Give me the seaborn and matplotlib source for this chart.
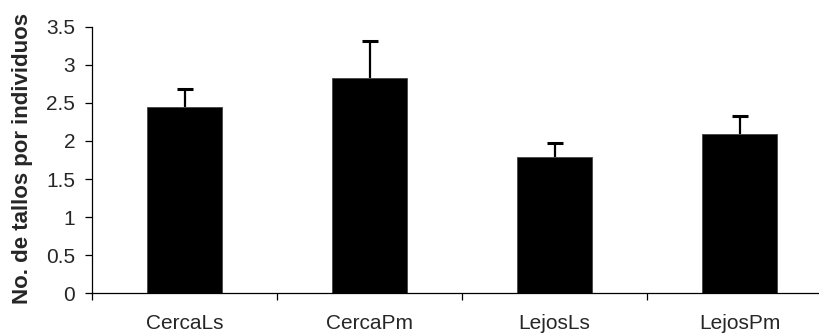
import matplotlib
matplotlib.use("Agg")
import matplotlib.pyplot as plt
import seaborn as sns
import pandas as pd

categories = ["CercaLs", "CercaPm", "LejosLs", "LejosPm"]
means = [2.45, 2.83, 1.79, 2.09]
errors = [0.23, 0.48, 0.18, 0.24]
y_ticks = [0, 0.5, 1, 1.5, 2, 2.5, 3, 3.5]
y_label = "No. de tallos por individuos"

sns.set_theme(style="white")
plt.rcParams["font.family"] = ["Liberation Sans", "DejaVu Sans"]

df = pd.DataFrame({"grupo": categories, "tallos": means})

fig = plt.figure(figsize=(8.19, 3.35), dpi=100)
# axes run slightly past the right edge of the canvas
ax = fig.add_axes([92 / 819, 1 - 293.3 / 335, 740 / 819, (293.3 - 26.7) / 335])

sns.barplot(data=df, x="grupo", y="tallos", order=categories, color="black",
            width=0.41, errorbar=None, saturation=1, ax=ax)
for p in ax.patches:
    p.set_edgecolor("#444444")
    p.set_linewidth(0.6)

# upper-only error bars
eb = ax.errorbar(range(len(categories)), means,
                 yerr=[[0] * len(errors), errors],
                 fmt="none", ecolor="black", elinewidth=1.6, capsize=5.5, capthick=2.2)
eb.lines[1][0].set_visible(False)

ax.set_ylim(0, 3.5)
ax.set_xlim(-0.5, 3.5)
ax.set_yticks(y_ticks)
ax.set_yticklabels([f"{v:g}" for v in y_ticks], fontsize=15)

# category labels centred under bars, ticks on the boundaries
ax.set_xticks([i - 0.5 for i in range(len(categories) + 1)])
ax.set_xticklabels([])
ax.set_xticks(range(len(categories)), minor=True)
ax.set_xticklabels(categories, minor=True, fontsize=15)
ax.tick_params(axis="x", which="minor", length=0, pad=15)
ax.tick_params(axis="x", which="major", direction="out", length=5, width=0.9, color="black", bottom=True)
ax.tick_params(axis="y", direction="out", length=5, width=0.9, color="black", left=True, pad=7)

ax.set_xlabel("")
ax.set_ylabel(y_label, fontsize=16, fontweight="bold")
ax.yaxis.set_label_coords(-0.080, 0.506)

for side in ["top", "right"]:
    ax.spines[side].set_visible(False)
for side in ["left", "bottom"]:
    ax.spines[side].set_color("black")
    ax.spines[side].set_linewidth(0.9)

fig.savefig("out.png", dpi=100)
